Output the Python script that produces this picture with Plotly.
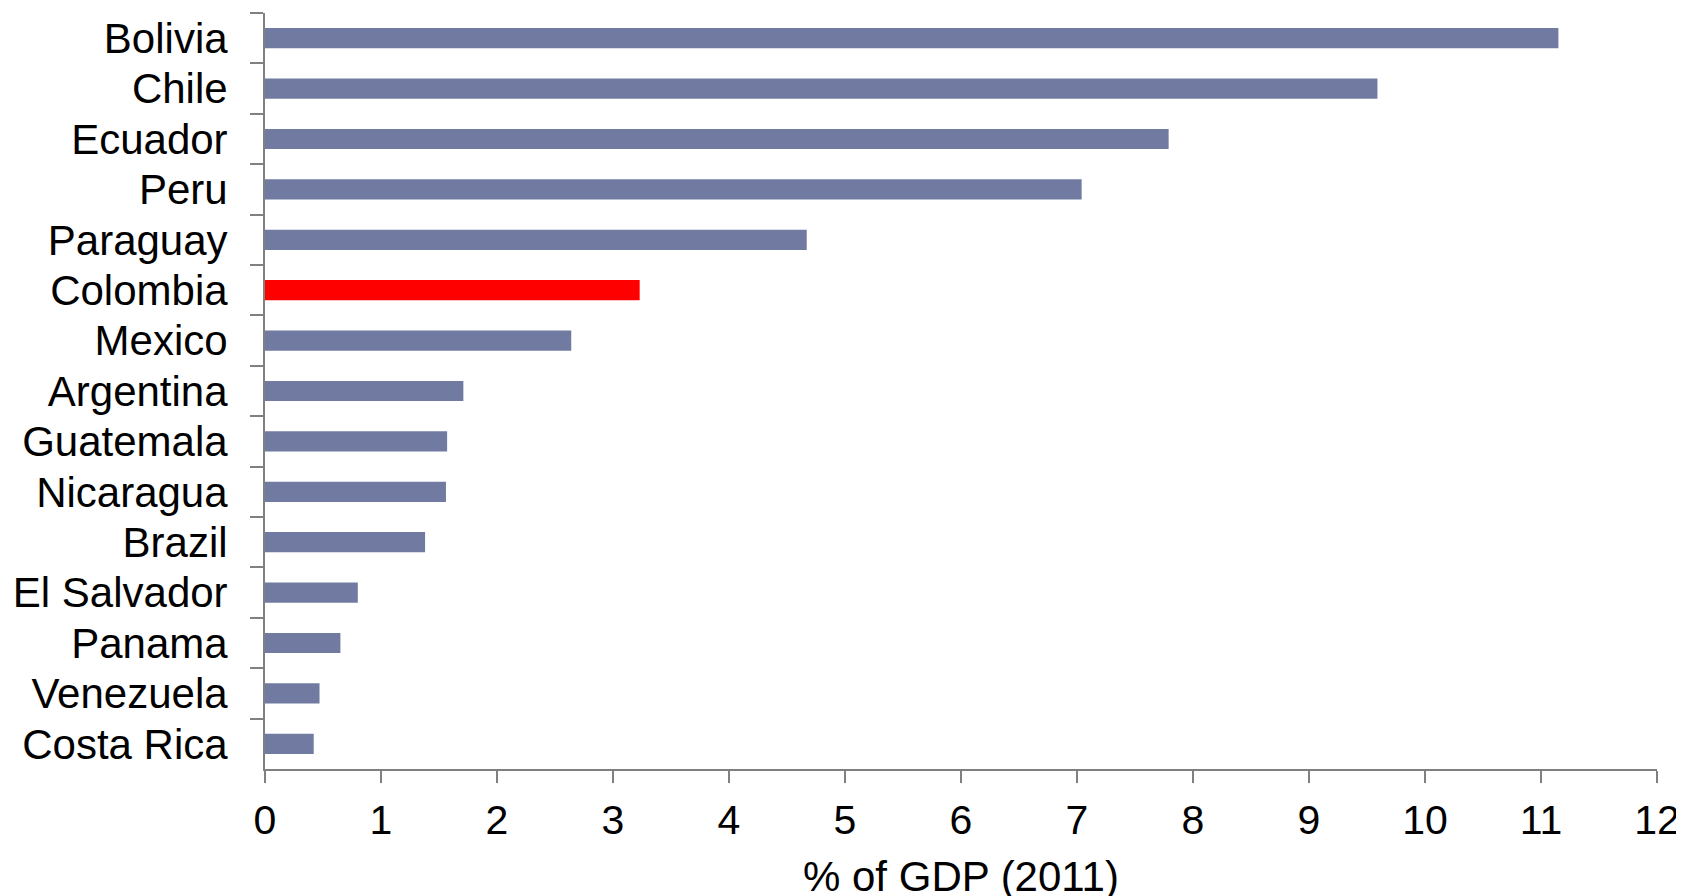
import plotly.graph_objects as go

countries = [
    "Bolivia", "Chile", "Ecuador", "Peru", "Paraguay", "Colombia", "Mexico",
    "Argentina", "Guatemala", "Nicaragua", "Brazil", "El Salvador", "Panama",
    "Venezuela", "Costa Rica",
]
gdp_share = [11.15, 9.59, 7.79, 7.04, 4.67, 3.23, 2.64, 1.71, 1.57, 1.56, 1.38, 0.80, 0.65, 0.47, 0.42]
highlight = "Colombia"
x_title = "% of GDP (2011)"

BAR = "#717BA2"
RED = "#FF0000"
AXIS = "#808080"
FONT = "Liberation Sans, Arial, sans-serif"

colors = [RED if c == highlight else BAR for c in countries]

fig = go.Figure(
    go.Bar(
        x=gdp_share,
        y=countries,
        orientation="h",
        marker=dict(color=colors, line=dict(width=0)),
        width=0.4,
        hovertemplate="%{y}: %{x:.2f}%<extra></extra>",
    )
)

# axis title as an annotation: it sits partly below the page edge in the original,
# which the axis title (kept inside the margins) can't do
fig.add_annotation(
    text=x_title,
    xref="paper",
    yref="paper",
    x=0.5,
    y=-0.142,
    xanchor="center",
    yanchor="middle",
    showarrow=False,
    font=dict(size=42),
)

# page body has an 8px margin, so the figure is a bit smaller than the window
fig.update_layout(
    width=1676,
    height=888,
    paper_bgcolor="white",
    plot_bgcolor="white",
    showlegend=False,
    margin=dict(l=257, r=27, t=5, b=127),
    font=dict(family=FONT, color="black"),
    xaxis=dict(
        range=[0, 12],
        dtick=1,
        automargin=False,
        showgrid=False,
        zeroline=False,
        showline=True,
        linecolor=AXIS,
        linewidth=2,
        ticks="outside",
        ticklen=12,
        tickwidth=2,
        tickcolor=AXIS,
        tickfont=dict(size=41),
        ticklabelstandoff=2,
    ),
    yaxis=dict(
        type="category",
        categoryorder="array",
        categoryarray=countries,
        range=[14.5, -0.5],
        automargin=False,
        showgrid=False,
        zeroline=False,
        showline=True,
        linecolor=AXIS,
        linewidth=2,
        ticks="outside",
        tickson="boundaries",
        ticklen=13,
        tickwidth=2,
        tickcolor=AXIS,
        tickfont=dict(size=42),
        ticklabelstandoff=27,
    ),
)

fig.write_html("out.html")
